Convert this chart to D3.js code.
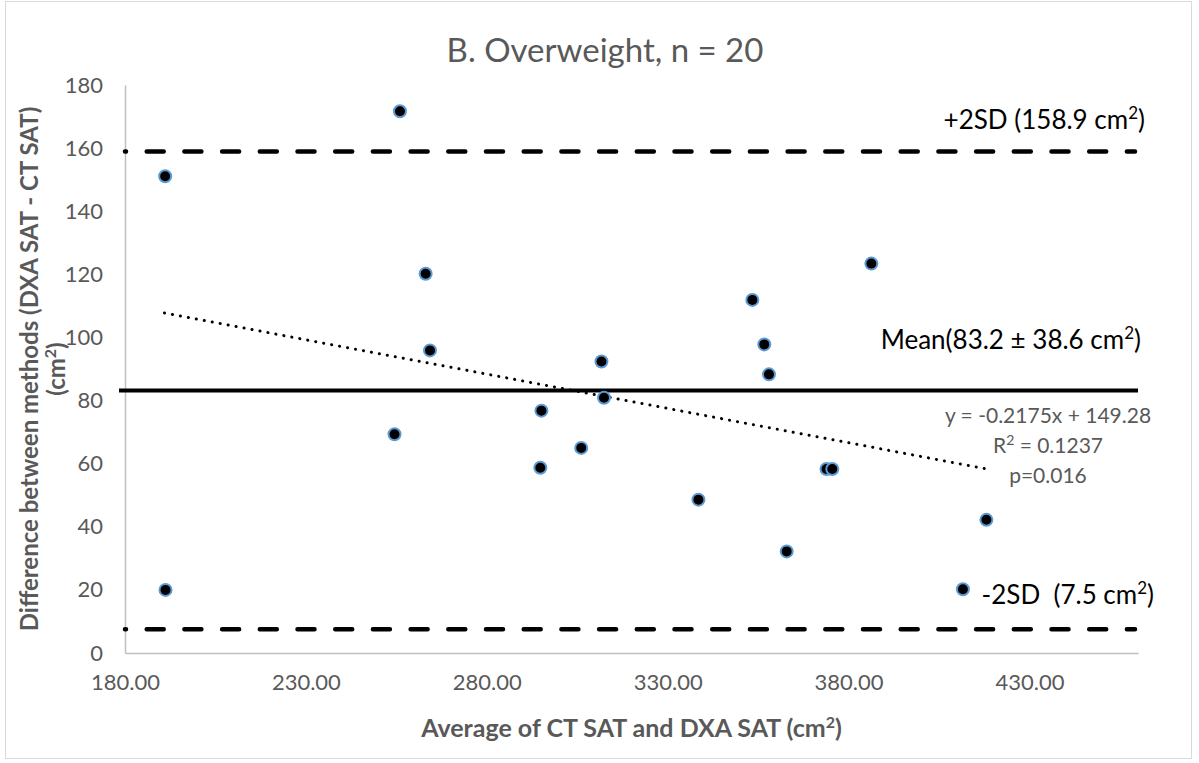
<!DOCTYPE html>
<html>
<head>
<meta charset="utf-8">
<script src="https://cdn.jsdelivr.net/npm/d3@7"></script>
<style>
  body { margin: 0; background: #fff; }
  text { font-family: Lato, "Open Sans", sans-serif; }
</style>
</head>
<body>
<div class="chart"></div>
<script>
// data
var avgSAT = [191.1, 191.2, 256.0, 263.1, 264.3, 254.5, 311.7, 312.4, 295.1, 294.8,
              306.1, 338.5, 353.4, 356.7, 358.0, 362.9, 386.3, 373.9, 375.5, 418.1, 411.6];
var diffSAT = [151.1, 20.0, 171.7, 120.2, 95.9, 69.3, 92.4, 80.9, 76.8, 58.7,
               65.0, 48.6, 111.9, 97.8, 88.3, 32.2, 123.4, 58.3, 58.3, 42.2, 20.2];
var xTicks = [180, 230, 280, 330, 380, 430];
var yTicks = [0, 20, 40, 60, 80, 100, 120, 140, 160, 180];
var meanDiff = 83.2;
var upperSD = 158.9;
var lowerSD = 7.5;
var trendSlope = -0.2175, trendIntercept = 149.28;
var trendRange = [190.9, 417.5];

var width = 1199, height = 763;
var margin = { top: 85, right: 61, bottom: 110, left: 125 };

var x = d3.scaleLinear()
    .domain([180, 460])
    .range([margin.left, width - margin.right]);

var y = d3.scaleLinear()
    .domain([0, 180])
    .range([height - margin.bottom, margin.top]);

var svg = d3.select(".chart")
    .append("svg")
    .attr("width", width)
    .attr("height", height);

// chart border
svg.append("rect")
    .attr("x", 5.5).attr("y", 1.5)
    .attr("width", 1186).attr("height", 757)
    .attr("fill", "none")
    .attr("stroke", "#d9d9d9");

// title
svg.append("text")
    .attr("x", 605).attr("y", 62)
    .attr("text-anchor", "middle")
    .attr("font-size", 33)
    .attr("fill", "#595959")
    .text("B. Overweight, n = 20");

// axes
var xAxis = svg.append("g")
    .attr("transform", "translate(0," + y(0) + ")")
    .call(d3.axisBottom(x).tickValues(xTicks).tickSize(0).tickPadding(21)
        .tickFormat(d3.format(".2f")));

var yAxis = svg.append("g")
    .attr("transform", "translate(" + x(180) + ",0)")
    .call(d3.axisLeft(y).tickValues(yTicks).tickSize(0).tickPadding(22));

[xAxis, yAxis].forEach(function (g) {
    g.select(".domain").attr("stroke", "#bfbfbf").attr("stroke-width", 1.5);
    g.selectAll("text")
        .attr("font-size", 22)
        .attr("fill", "#595959")
        .style("font-family", "Lato, sans-serif");
});

// axis titles
svg.append("text")
    .attr("x", (x(180) + x(460)) / 2).attr("y", 737)
    .attr("text-anchor", "middle")
    .attr("font-size", 25)
    .attr("font-weight", "bold")
    .attr("fill", "#595959")
    .html("Average of CT SAT and DXA SAT (cm<tspan baseline-shift='super' font-size='16'>2</tspan>)");

var yTitle = svg.append("text")
    .attr("transform", "translate(38," + (y(90)) + ") rotate(-90)")
    .attr("text-anchor", "middle")
    .attr("font-size", 24)
    .attr("font-weight", "bold")
    .attr("fill", "#595959");
yTitle.append("tspan").attr("x", 0).attr("dy", 0)
    .text("Difference between methods (DXA SAT - CT SAT)");
yTitle.append("tspan").attr("x", 0).attr("dy", 27)
    .html("(cm<tspan baseline-shift='super' font-size='16'>2</tspan>)");

// reference lines
svg.append("line")
    .attr("x1", x(180) - 6).attr("x2", x(460))
    .attr("y1", y(meanDiff)).attr("y2", y(meanDiff))
    .attr("stroke", "#000").attr("stroke-width", 4);

[upperSD, lowerSD].forEach(function (v) {
    svg.append("line")
        .attr("x1", x(180)).attr("x2", x(460) - 3)
        .attr("y1", y(v)).attr("y2", y(v))
        .attr("stroke", "#000").attr("stroke-width", 4.5)
        .attr("stroke-linecap", "round")
        .attr("stroke-dasharray", "17 20.7")
        .attr("stroke-dashoffset", 16);
});

// trend line
svg.append("line")
    .attr("x1", x(trendRange[0])).attr("x2", x(trendRange[1]))
    .attr("y1", y(trendSlope * trendRange[0] + trendIntercept))
    .attr("y2", y(trendSlope * trendRange[1] + trendIntercept))
    .attr("stroke", "#000").attr("stroke-width", 3)
    .attr("stroke-linecap", "round")
    .attr("stroke-dasharray", "0.1 8");

// points
svg.selectAll("circle.pt")
    .data(avgSAT)
    .enter().append("circle")
    .attr("class", "pt")
    .attr("cx", function (d) { return x(d); })
    .attr("cy", function (d, i) { return y(diffSAT[i]); })
    .attr("r", 6)
    .attr("fill", "#000")
    .attr("stroke", "#5b9bd5")
    .attr("stroke-width", 2);

// labels
function label(xp, yp, txt, size, color, anchor) {
    svg.append("text")
        .attr("x", xp).attr("y", yp)
        .attr("text-anchor", anchor || "start")
        .attr("font-size", size)
        .attr("fill", color)
        .html(txt);
}
label(1145, 129, "+2SD (158.9 cm<tspan baseline-shift='super' font-size='17'>2</tspan>)", 26, "#000", "end");
label(1141, 349, "Mean(83.2 &#177; 38.6 cm<tspan baseline-shift='super' font-size='17'>2</tspan>)", 26, "#000", "end");
label(1154, 604, "-2SD&#160; (7.5 cm<tspan baseline-shift='super' font-size='17'>2</tspan>)", 26, "#000", "end");
label(1048, 423, "y = -0.2175x + 149.28", 21, "#595959", "middle");
label(1048, 453, "R<tspan baseline-shift='super' font-size='14'>2</tspan> = 0.1237", 21, "#595959", "middle");
label(1048, 483, "p=0.016", 21, "#595959", "middle");
</script>
</body>
</html>
